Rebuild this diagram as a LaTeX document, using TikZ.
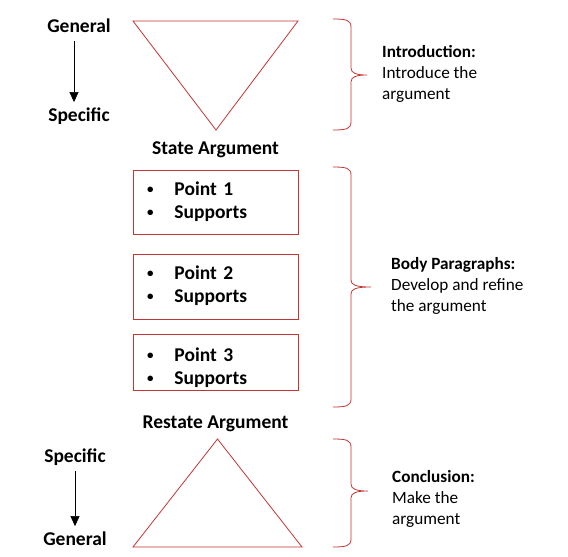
\documentclass[tikz,border=0pt]{standalone}
\usepackage{fontspec}
\setmainfont{Carlito}
\usetikzlibrary{arrows.meta}
\definecolor{linered}{RGB}{196,52,52}

% vinietas mas pequenas que \textbullet
\newcommand{\bul}{\raisebox{1.6pt}{\fontsize{13}{13}\selectfont\textbullet}\hspace{21pt}}
% #1 numero, #2 altura arriba, #3 hueco abajo
\newcommand{\pointlines}[3]{\rule{0pt}{#2}\bul Point #1\\ \bul Supports\rule[-#3]{0pt}{#3}}

\tikzset{
  lbl/.style={font=\bfseries\fontsize{19.5}{23}\selectfont, inner sep=0pt, anchor=base},
  side/.style={font=\fontsize{17.2}{21}\selectfont, align=left, inner sep=0pt, anchor=base west},
  pointbox/.style={draw=linered, line width=0.8pt, anchor=north, inner ysep=0pt, inner xsep=14pt,
    text width=137pt, align=left, font=\bfseries\fontsize{19.5}{22.7}\selectfont},
  flow/.style={-{Triangle[length=10pt,width=9pt]}, line width=0.6pt}
}

\begin{document}
\begin{tikzpicture}[x=1pt, y=-1pt]
    \useasboundingbox (0,0) rectangle (568,557);

    % General -> Specific
    \node[lbl] (gen1) at (79,32) {General};
    \node[lbl] (spe1) at (79,121) {Specific};
    \draw[flow, shorten <=9pt, shorten >=5pt] ([xshift=-5pt]gen1.south) -- ([xshift=-5pt]spe1.north);

    % Triangulo de arriba
    \draw[linered, line width=0.8pt] (133,21) -- (298,21) -- (216,130) -- cycle;
    \node[lbl] (state) at (215.5,154) {State Argument};

    % Cajas
    \node[pointbox] (box1) at (215.5,170) {\pointlines{1}{25pt}{16.5pt}};
    \node[pointbox] (box2) at (215.5,254) {\pointlines{2}{25pt}{17pt}};
    \node[pointbox] (box3) at (215.5,334) {\pointlines{3}{27pt}{6pt}};

    \node[lbl] (restate) at (215.5,428) {Restate Argument};

    % Triangulo de abajo
    \draw[linered, line width=0.8pt] (133,547) -- (302,547) -- (217.5,439) -- cycle;

    % Specific -> General
    \node[lbl] (spe2) at (75,462) {Specific};
    \node[lbl] (gen2) at (75,545) {General};
    \draw[flow, shorten <=6pt, shorten >=5pt] (spe2.south) -- (gen2.north);

    % Llaves
    \foreach \ya/\yb/\ym/\xt in {19/130/75/367, 167/407/287/371, 439/547/491/368}
        \draw[linered, line width=0.8pt] (333,\ya) .. controls (346,\ya) and (351,\ya+1) .. (351,\ya+8)
            -- (351,\ym-7) .. controls (351,\ym-2) and (356,\ym) .. (\xt,\ym)
            .. controls (356,\ym) and (351,\ym+2) .. (351,\ym+7)
            -- (351,\yb-8) .. controls (351,\yb-1) and (346,\yb) .. (333,\yb);

    % Textos de la derecha (base = ultima linea)
    \node[side] (intro) at (382,99) {\textbf{Introduction:}\\Introduce the\\argument};
    \node[side] (body) at (391,311) {\textbf{Body Paragraphs:}\\Develop and refine\\the argument};
    \node[side] (concl) at (392,524) {\textbf{Conclusion:}\\Make the\\argument};
\end{tikzpicture}
\end{document}
